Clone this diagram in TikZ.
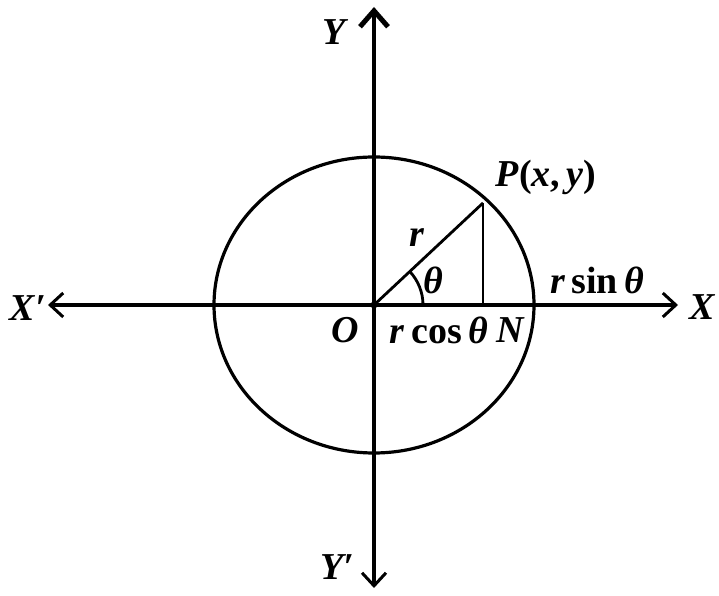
\documentclass[tikz,border=0pt]{standalone}
\usepackage{fontspec}
\setmainfont{Liberation Serif}
\usetikzlibrary{arrows.meta}
\begin{document}
\begin{tikzpicture}[x=1pt,y=1pt,line width=3.2pt,
  lbl/.style={font=\fontsize{38}{44}\selectfont\bfseries, inner sep=0pt},
  barb/.tip={Straight Barb[length=13pt,width=24pt,line width=3pt]},
  bigbarb/.tip={Straight Barb[length=16pt,width=28pt,line width=5pt]},
  thin/.style={line width=2.8pt}]
\useasboundingbox (0,0) rectangle (719,596);
\coordinate (O) at (374,291);
\coordinate (Xp) at (48,291);
\coordinate (X) at (678,291);
\coordinate (Y) at (374,589);
\coordinate (Yp) at (374,8);
\coordinate (P) at (483,393);
\coordinate (N) at (483,291);
\coordinate (A) at (423,291);
% circle
\draw (O) ellipse [x radius=160, y radius=148];
% axes
\draw[barb-barb] (Xp) -- (X);
\draw[barb-bigbarb] (Yp) -- (Y);
% radius and perpendicular
\draw[thin] (O) -- (P);
\draw[thin] (P) -- (N);
\draw[thin] (A) arc[start angle=0,end angle=43,radius=49];
\fill (O) circle (3.5pt);
% labels
\node[lbl] (lY) at (336,564) {\textit{Y}};
\node[lbl] (lYp) at (337,29) {\textit{Y′}};
\node[lbl] (lXp) at (28,288) {\textit{X′}};
\node[lbl] (lX) at (703,289) {\textit{X}};
\node[lbl] (lP) at (546,419) {\textit{P}(\textit{x},\,\textit{y})};
\node[lbl] (lrs) at (597,316) {\textit{r}\,sin\,\textit{θ}};
\node[lbl] (lO) at (345,266) {\textit{O}};
\node[lbl] (lrc) at (439,266) {\textit{r}\,cos\,\textit{θ}};
\node[lbl] (lN) at (511,266) {\textit{N}};
\node[lbl] (lr) at (417,358) {\textit{r}};
\node[lbl] (lth) at (433,316) {\textit{θ}};
\end{tikzpicture}
\end{document}
